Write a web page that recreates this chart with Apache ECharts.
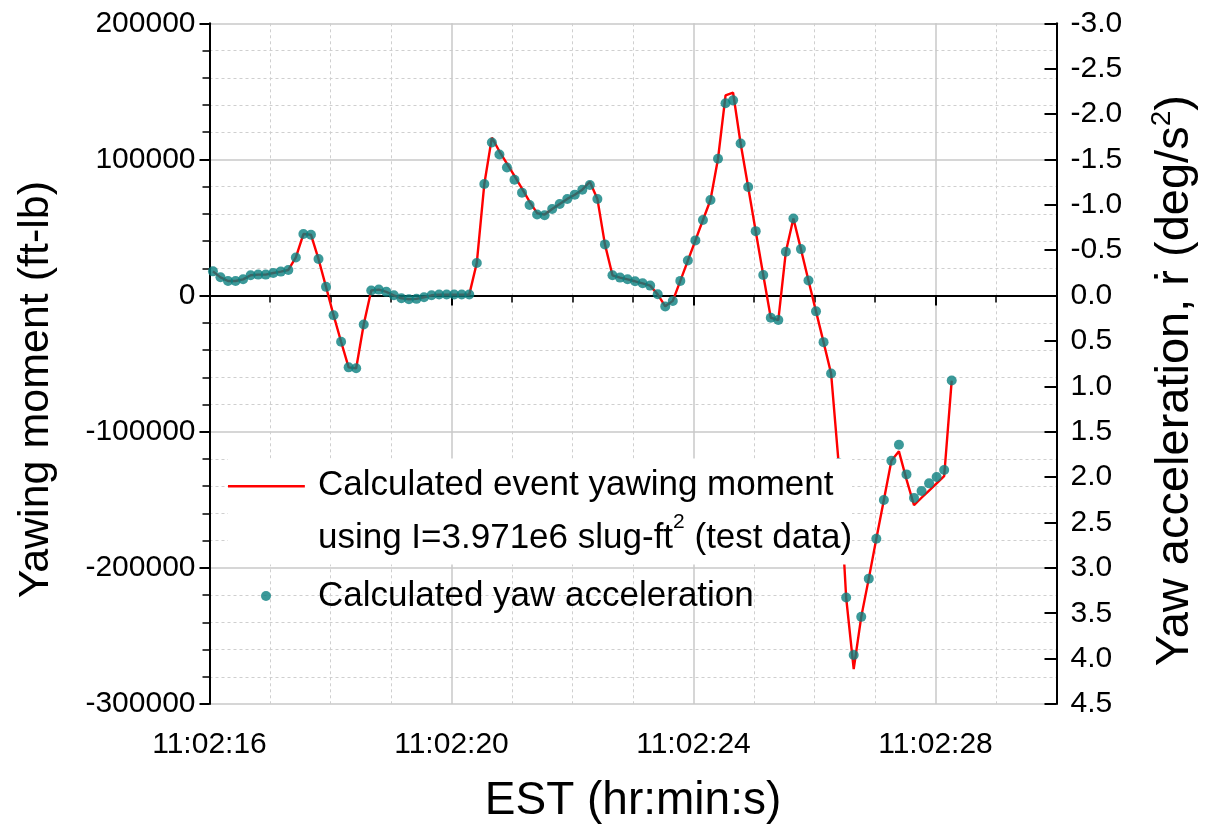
<!DOCTYPE html>
<html><head><meta charset="utf-8">
<script src="https://cdn.jsdelivr.net/npm/echarts@6/dist/echarts.min.js"></script>
<style>html,body{margin:0;padding:0;background:#fff}#c{width:1207px;height:829px}</style>
</head><body><div id="c"></div>
<script>
// time axis: seconds after 11:02:00
const timePrefix = '11:02:';
const sampleStart = 16.057;
const sampleStep = 0.1246;

// Calculated event yawing moment (ft-lb), left axis
const momentLine = [
  17800, 13400, 10700, 10700, 11900, 14900, 15400, 15400, 16600, 17600, 18800,
  28000, 45200, 44700, 26900, 6400, -14400, -33900, -52700, -53400, -21200,
  3700, 4400, 2700, 200, -2000, -2700, -2400, -1200, 200, 700, 700, 700, 700, 700,
  23900, 82000, 116000, 106000, 97000, 88000, 78500, 69000, 60500, 59500,
  63600, 67300, 71000, 74100, 77800, 83600, 71000,
  37600, 14900, 13200, 11900, 10500, 9000, 7300, 900, -7900, -3900,
  10800, 25700, 40500, 55500, 70200, 100500, 147000, 149000,
  111700, 79700, 47300, 15100, -16300, -18000,
  32200, 56600, 34100, 11100, -11600, -34200, -57200,
  -123000, -221800, -274300, -236000, -207900, -178600, -150100, -121300,
  -114400, -135000, -154000, -148500, -143200, -138000, -132700, -62400
];

// Calculated yaw acceleration (deg/s^2), right axis (inverted)
const yawAccel = [
  -0.267, -0.201, -0.161, -0.161, -0.179, -0.224, -0.231, -0.231, -0.249, -0.264, -0.282,
  -0.42, -0.678, -0.671, -0.404, -0.096, 0.216, 0.509, 0.791, 0.801, 0.318,
  -0.056, -0.066, -0.041, -0.003, 0.03, 0.041, 0.036, 0.018, -0.003, -0.011, -0.011, -0.011, -0.011, -0.011,
  -0.359, -1.23, -1.686, -1.554, -1.412, -1.277, -1.134, -0.999, -0.893, -0.885,
  -0.954, -1.01, -1.065, -1.112, -1.167, -1.218, -1.065,
  -0.564, -0.224, -0.198, -0.179, -0.158, -0.135, -0.11, -0.014, 0.119, 0.059,
  -0.162, -0.386, -0.608, -0.833, -1.053, -1.508, -2.12, -2.151,
  -1.676, -1.196, -0.71, -0.227, 0.245, 0.27,
  -0.483, -0.849, -0.512, -0.167, 0.174, 0.513, 0.858,
  1.845, 3.327, 3.96, 3.54, 3.119, 2.679, 2.252, 1.82,
  1.644, 1.97, 2.229, 2.153, 2.069, 1.998, 1.922, 0.936
];

const lineName = 'Calculated event yawing moment using I=3.971e6 slug-ft\u00B2 (test data)';
const dotName = 'Calculated yaw acceleration';
const xTitle = 'EST (hr:min:s)';
const yLeftTitle = 'Yawing moment (ft-lb)';
const yRightTitle = 'Yaw acceleration, \u1E59 (deg/s';

const times = momentLine.map((_, i) => sampleStart + i * sampleStep);
const FONT = 'Liberation Sans, Arial, sans-serif';

const chart = echarts.init(document.getElementById('c'), null, {renderer: 'canvas'});
const axisBlack = {color: '#000', width: 2};
chart.setOption({
  animation: false,
  backgroundColor: '#fff',
  textStyle: {fontFamily: FONT},
  grid: {left: 209.5, right: 143.5, top: 23.3, bottom: 122.2},
  xAxis: {
    type: 'value', min: 16, max: 30, interval: 4,
    axisLine: {lineStyle: axisBlack},
    axisTick: {length: 10, lineStyle: axisBlack},
    minorTick: {show: true, splitNumber: 4, length: 7, lineStyle: {color: '#000', width: 1.5}},
    splitLine: {show: true, lineStyle: {color: '#c8c8c8', width: 1.5}},
    minorSplitLine: {show: true, lineStyle: {color: '#cfcfcf', width: 1, type: [3, 3]}},
    axisLabel: {formatter: v => timePrefix + v, fontSize: 30, margin: 26, color: '#000', fontFamily: FONT, showMaxLabel: false},
    name: xTitle, nameLocation: 'middle', nameGap: 74,
    nameTextStyle: {fontSize: 46, color: '#000', fontFamily: FONT}
  },
  yAxis: [{
    type: 'value', position: 'left', min: -300000, max: 200000, interval: 100000,
    axisLine: {show: true, lineStyle: axisBlack},
    axisTick: {show: true, length: 10, lineStyle: axisBlack},
    minorTick: {show: true, splitNumber: 5, length: 7, lineStyle: {color: '#000', width: 1.5}},
    splitLine: {show: true, lineStyle: {color: '#c8c8c8', width: 1.5}},
    minorSplitLine: {show: true, lineStyle: {color: '#cfcfcf', width: 1, type: [3, 3]}},
    axisLabel: {formatter: v => String(v), fontSize: 30, margin: 14, color: '#000', fontFamily: FONT},
    name: yLeftTitle, nameLocation: 'middle', nameGap: 152, nameRotate: 90,
    nameTextStyle: {fontSize: 43, color: '#000', fontFamily: FONT, padding: [0, 52, 0, 0]}
  }, {
    type: 'value', position: 'right', min: -3, max: 4.5, interval: 0.5, inverse: true,
    axisLine: {show: true, lineStyle: axisBlack},
    axisTick: {show: true, inside: true, length: 12, lineStyle: axisBlack},
    splitLine: {show: false},
    axisLabel: {formatter: v => v.toFixed(1), fontSize: 30, margin: 14, color: '#000', fontFamily: FONT},
    name: '{a|' + yRightTitle + '}{s|2}{a|)}', nameLocation: 'middle', nameGap: 92, nameRotate: 90,
    nameTextStyle: {fontSize: 47, color: '#000', fontFamily: FONT, padding: [0, 34, 0, 0],
      rich: {a: {fontSize: 47, fontFamily: FONT, color: '#000', lineHeight: 54},
             s: {fontSize: 28, fontFamily: FONT, color: '#000', verticalAlign: 'top', lineHeight: 32}}}
  }],
  legend: [{
    data: [lineName], left: 228, top: 458.5, padding: 0, orient: 'vertical',
    selectedMode: false, backgroundColor: '#ffffff', z: 10,
    itemWidth: 85, itemHeight: 53,
    icon: 'path://M0,0H77V2.6H0Z M85,53H85.1V53.1H85Z',
    itemStyle: {borderWidth: 0},
    formatter: () => '{a|Calculated event yawing moment}\n{a|using I=3.971e6 slug-ft}{s|2}{a| (test data)}',
    textStyle: {fontSize: 35, color: '#000', fontFamily: FONT, lineHeight: 53,
      rich: {a: {fontSize: 35, fontFamily: FONT, color: '#000', lineHeight: 53},
             s: {fontSize: 21, fontFamily: FONT, color: '#000', verticalAlign: 'top', lineHeight: 40}}}
  }, {
    data: [dotName], left: 261, top: 569.5, padding: 0, orient: 'vertical',
    selectedMode: false, z: 10,
    itemWidth: 94, itemHeight: 10, icon: 'circle',
    itemStyle: {borderWidth: 0},
    textStyle: {fontSize: 35, color: '#000', fontFamily: FONT, lineHeight: 53}
  }],
  series: [{
    name: lineName, type: 'line', yAxisIndex: 0,
    data: times.map((t, i) => [t, momentLine[i]]),
    symbol: 'none', lineStyle: {color: '#ff0000', width: 2.4}, itemStyle: {color: '#ff0000'}, z: 2
  }, {
    name: dotName, type: 'scatter', yAxisIndex: 1,
    data: times.map((t, i) => [t, yawAccel[i]]),
    symbolSize: 10, itemStyle: {color: '#0a8080'}, z: 3
  }]
});
</script></body></html>
